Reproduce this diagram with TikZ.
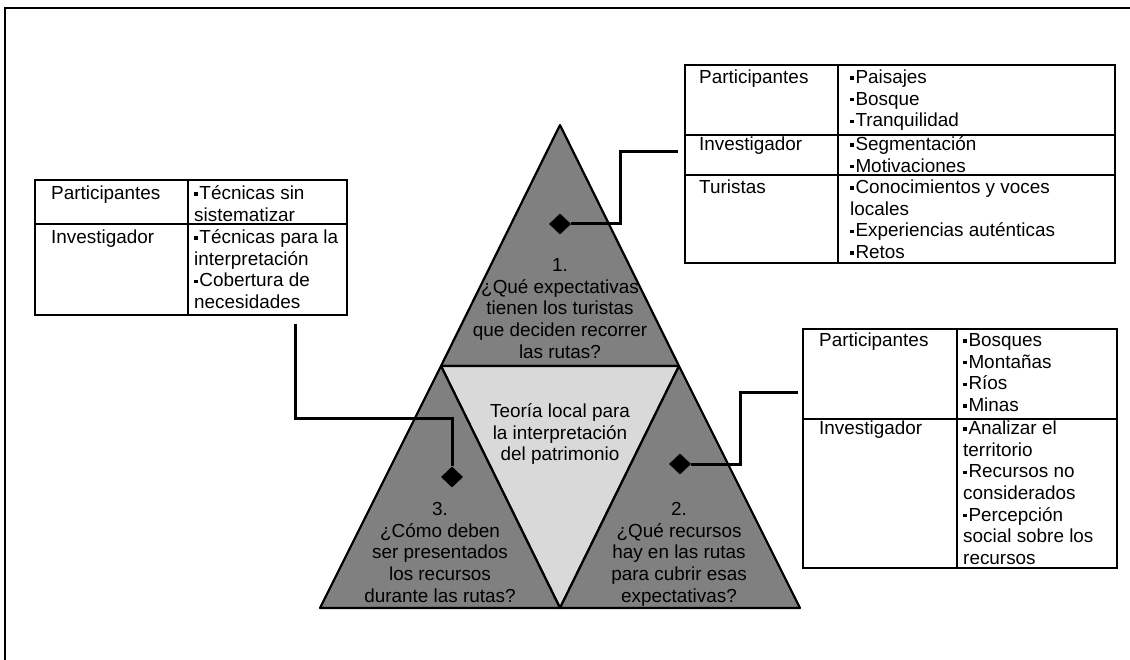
\documentclass[tikz,border=0pt]{standalone}
\usepackage{fontspec}
\setmainfont{Liberation Sans}
\usetikzlibrary{shapes.geometric}
\newcommand\sqbul{\raisebox{0.2em}{\rule{0.18em}{0.18em}}\hspace{0.1em}}
\definecolor{tridark}{RGB}{128,128,128}
\definecolor{trilight}{RGB}{217,217,217}

\begin{document}
\begin{tikzpicture}[x=1pt,y=-1pt,
  txt/.style={inner sep=0pt, font=\fontsize{18.9}{21.7}\selectfont},
  cell/.style={txt, anchor=north west, align=left},
  tritext/.style={txt, anchor=north, align=center},
  tblbox/.style={draw, line width=2.3pt, inner sep=0pt},
  tblline/.style={line width=2.3pt},
  trifill/.style={draw, line width=2.2pt, line join=round},
  conn/.style={line width=3pt},
  pin/.style={diamond, fill=black, inner sep=0pt, minimum width=22pt, minimum height=21pt},
]
\useasboundingbox (0,0) rectangle (1130,660);
\fill[white] (0,0) rectangle (1130,660);

% outer frame (top and left sides)
\draw[line width=2.2pt] (5,660) -- (5,8) -- (1130,8);

% the pyramid of four triangles
\coordinate (apex) at (560,125);
\coordinate (midL) at (441,366);
\coordinate (midR) at (679,366);
\coordinate (botL) at (320,608);
\coordinate (botM) at (560,608);
\coordinate (botR) at (800,608);
\filldraw[trifill, fill=tridark] (apex) -- (midR) -- (midL) -- cycle;
\filldraw[trifill, fill=trilight] (midL) -- (midR) -- (botM) -- cycle;
\filldraw[trifill, fill=tridark] (midL) -- (botM) -- (botL) -- cycle;
\filldraw[trifill, fill=tridark] (midR) -- (botR) -- (botM) -- cycle;

\node[tritext] (q1) at (560,256) {\strut 1.\\¿Qué expectativas\\tienen los turistas\\que deciden recorrer\\las rutas?};
\node[tritext] (core) at (560,402) {\strut Teoría local para\\la interpretación\\del patrimonio};
\node[tritext] (q3) at (440,500) {\strut 3.\\¿Cómo deben\\ser presentados\\los recursos\\durante las rutas?};
\node[tritext] (q2) at (679,500) {\strut 2.\\¿Qué recursos\\hay en las rutas\\para cubrir esas\\expectativas?};

% table for question 1
\node[tblbox, minimum width=430pt, minimum height=198pt] (tblT) at (900,164) {};
\draw[tblline] (838,65) -- (838,263);
\draw[tblline] (685,135) -- (1115,135);
\draw[tblline] (685,175) -- (1115,175);
\node[cell] (tTa) at (699,68) {\strut Participantes};
\node[cell] (tTb) at (850,68) {\strut\sqbul Paisajes\\\sqbul Bosque\\\sqbul Tranquilidad};
\node[cell] (tTc) at (699,135) {\strut Investigador};
\node[cell] (tTd) at (850,135) {\strut\sqbul Segmentación\\\sqbul Motivaciones};
\node[cell] (tTe) at (699,178) {\strut Turistas};
\node[cell] (tTf) at (850,178) {\strut\sqbul Conocimientos y voces\\locales\\\sqbul Experiencias auténticas\\\sqbul Retos};

% table for question 3
\node[tblbox, minimum width=312pt, minimum height=135pt] (tblL) at (191,247.5) {};
\draw[tblline] (188,180) -- (188,315);
\draw[tblline] (35,224) -- (347,224);
\node[cell] (tLa) at (51,184) {\strut Participantes};
\node[cell] (tLb) at (194,184) {\strut\sqbul Técnicas sin\\sistematizar};
\node[cell] (tLc) at (51,228) {\strut Investigador};
\node[cell] (tLd) at (194,228) {\strut\sqbul Técnicas para la\\interpretación\\\sqbul Cobertura de\\necesidades};

% table for question 2
\node[tblbox, minimum width=314pt, minimum height=239pt] (tblR) at (960,448.5) {};
\draw[tblline] (957,329) -- (957,568);
\draw[tblline] (803,419) -- (1117,419);
\node[cell] (tRa) at (819,331) {\strut Participantes};
\node[cell] (tRb) at (963,331) {\strut\sqbul Bosques\\\sqbul Montañas\\\sqbul Ríos\\\sqbul Minas};
\node[cell] (tRc) at (819,419) {\strut Investigador};
\node[cell] (tRd) at (963,419) {\strut\sqbul Analizar el\\territorio\\\sqbul Recursos no\\considerados\\\sqbul Percepción\\social sobre los\\recursos};

% diamond markers and their connectors
\node[pin] (dT) at (560,224) {};
\node[pin] (dR) at (680,464) {};
\node[pin] (dL) at (452,477) {};
\coordinate (bendT) at (620,152);
\coordinate (bendR) at (740,392);
\coordinate (bendL) at (295,418);
\draw[conn, shorten >=6pt] (dT.east) -| (bendT) -- (bendT -| tblT.west);
\draw[conn, shorten >=4pt] (dR.east) -| (bendR) -- (bendR -| tblR.west);
\draw[conn, shorten >=8pt] (dL.north) |- (bendL) -- (bendL |- tblL.south);
\end{tikzpicture}
\end{document}
